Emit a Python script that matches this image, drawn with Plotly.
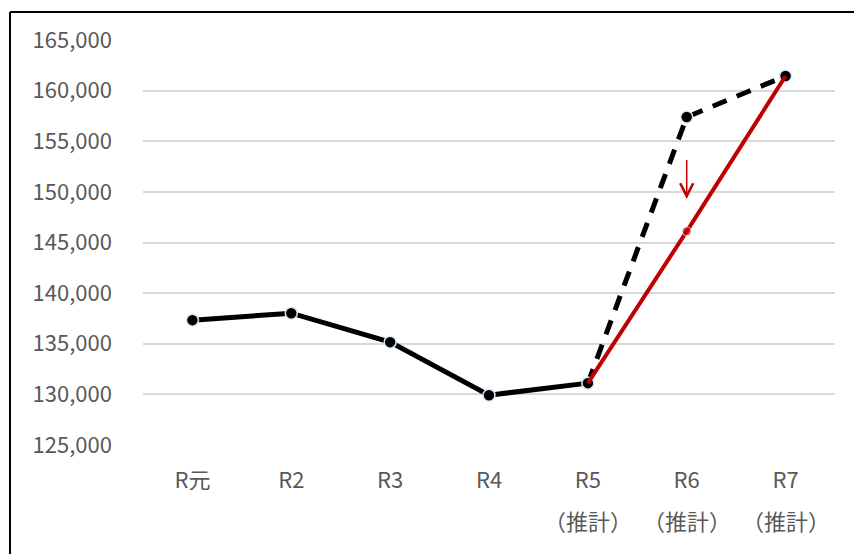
import plotly.graph_objects as go

categories = ["R元", "R2", "R3", "R4", "R5", "R6", "R7"]
notes = ["", "", "", "", "（推計）", "（推計）", "（推計）"]
actual = [137330, 138020, 135160, 129920, 131110, None, None]
estimate_before = [None, None, None, None, 131110, 157390, 161440]
estimate_after = [None, None, None, None, 131110, 146100, 161440]
tick_vals = [125000, 130000, 135000, 140000, 145000, 150000, 155000, 160000, 165000]
tick_text = [f"{v:,}" for v in tick_vals]

FONT = "Noto Sans CJK JP"
GRAY = "#595959"
RED = "#C00000"
FS = 22

fig = go.Figure()

marker_black = dict(color="black", size=12, line=dict(color="#DDEBF7", width=1.5))

fig.add_trace(go.Scatter(
    x=categories, y=estimate_before, mode="lines+markers",
    line=dict(color="black", width=5, dash="15px,11px"),
    marker=marker_black, showlegend=False,
))
fig.add_trace(go.Scatter(
    x=categories, y=actual, mode="lines+markers",
    line=dict(color="black", width=5),
    marker=marker_black, showlegend=False,
))
fig.add_trace(go.Scatter(
    x=categories, y=estimate_after, mode="lines+markers",
    line=dict(color=RED, width=4),
    marker=dict(color=RED, size=[0, 0, 0, 0, 0, 9, 0]),
    showlegend=False,
))

# arrow at R6
fig.add_annotation(
    x=categories[5], y=149300, ax=categories[5], ay=153300,
    xref="x", yref="y", axref="x", ayref="y",
    showarrow=True, arrowhead=5, arrowsize=1.7, arrowwidth=1.5,
    arrowcolor=RED, text="",
)

for c, n in zip(categories, notes):
    if n:
        fig.add_annotation(
            x=c, y=-0.185, xref="x", yref="paper", text=n, showarrow=False,
            font=dict(family=FONT, size=FS, color=GRAY), yanchor="middle",
        )

# outer frame (left and top edges visible)
fig.add_shape(type="line", xref="paper", yref="paper",
              x0=-0.1922, x1=-0.1922, y0=1.0691, y1=-0.3,
              line=dict(color="black", width=2))
fig.add_shape(type="line", xref="paper", yref="paper",
              x0=-0.1922, x1=1.1, y0=1.0691, y1=1.0691,
              line=dict(color="black", width=2))

fig.update_layout(
    width=854, height=554,
    margin=dict(l=143, r=19, t=40, b=109),
    paper_bgcolor="white", plot_bgcolor="white",
    font=dict(family=FONT, size=FS, color=GRAY),
    xaxis=dict(
        type="category", categoryorder="array", categoryarray=categories,
        range=[-0.5, 6.5], showgrid=False, zeroline=False, showline=False,
        ticks="", ticklabelstandoff=20,
        tickfont=dict(family=FONT, size=FS, color=GRAY),
    ),
    yaxis=dict(
        range=[125000, 165000], tickvals=tick_vals, ticktext=tick_text,
        showgrid=True, gridcolor="#D9D9D9", gridwidth=1.5,
        zeroline=False, showline=False, ticks="", ticklabelstandoff=30,
        tickfont=dict(family=FONT, size=FS, color=GRAY),
    ),
)

fig.write_html("out.html")
